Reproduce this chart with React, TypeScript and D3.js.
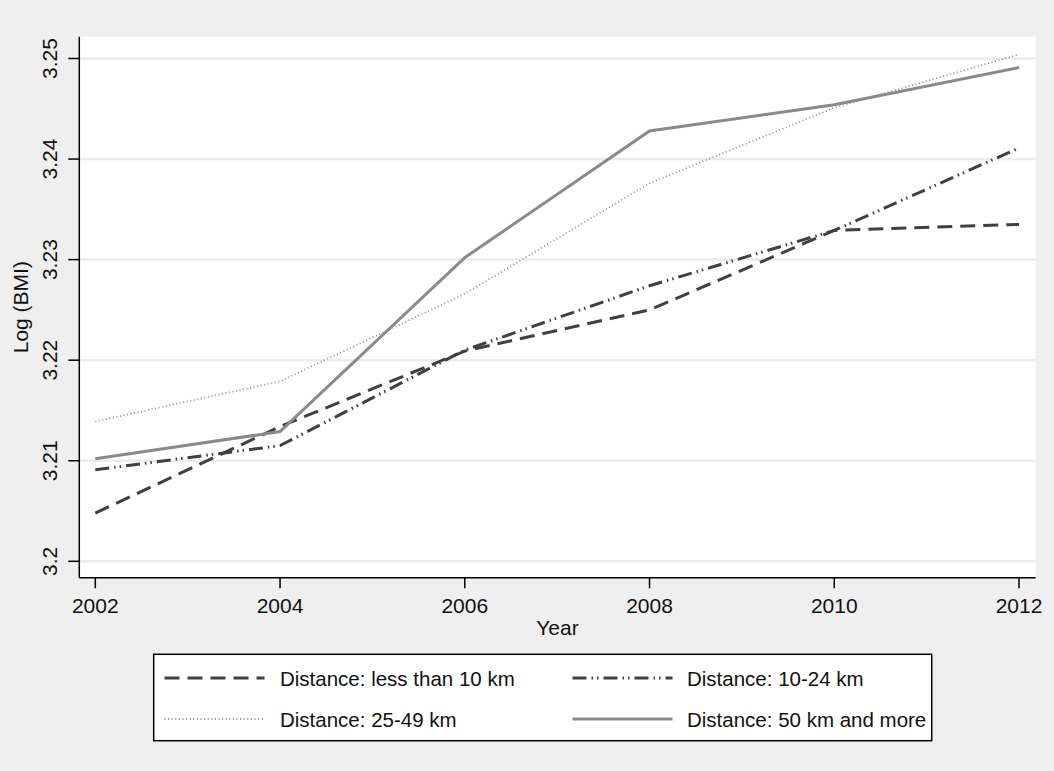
import React from "react";
import * as d3 from "d3";

const years = [2002, 2004, 2006, 2008, 2010, 2012];
const lessThan10 = [3.2048, 3.2134, 3.2209, 3.2250, 3.2329, 3.2335];
const d10to24 = [3.2091, 3.2115, 3.2210, 3.2274, 3.2329, 3.2411];
const d25to49 = [3.2139, 3.2179, 3.2266, 3.2376, 3.2451, 3.2504];
const d50plus = [3.2102, 3.2129, 3.2302, 3.2428, 3.2454, 3.2491];
const yTicks = [3.2, 3.21, 3.22, 3.23, 3.24, 3.25];
const seriesNames = [
  "Distance: less than 10 km",
  "Distance: 10-24 km",
  "Distance: 25-49 km",
  "Distance: 50 km and more",
];

const W = 1054;
const H = 771;
const plot = { left: 79.3, right: 1035.7, top: 36.7, bottom: 577.7 };

const styles = [
  { color: "#404040", width: 3, dash: "15 8" },
  { color: "#404040", width: 3, dash: "14 5 1.5 4 1.5 5" },
  { color: "#8e8e8e", width: 1.8, dash: "1 2.6" },
  { color: "#8a8a8a", width: 3, dash: "none" },
];

export default function App() {
  const x = d3.scaleLinear().domain([2002, 2012]).range([95.3, 1019]);
  const y = d3.scaleLinear().domain([3.2, 3.25]).range([561.3, 58.5]);
  const line = d3
    .line<[number, number]>()
    .x((d) => x(d[0]))
    .y((d) => y(d[1]));
  const all = [lessThan10, d10to24, d25to49, d50plus];
  const font = "'Liberation Sans', Arial, sans-serif";
  const fs = 21;
  const lfs = 20.5;

  const legendRows = [
    { sx: 164.5, tx: 280, cy: 678 },
    { sx: 572.5, tx: 687, cy: 678 },
    { sx: 164.5, tx: 280, cy: 719 },
    { sx: 572.5, tx: 687, cy: 719 },
  ];

  return (
    <div style={{ position: "fixed", left: 0, top: 0 }}>
      <svg width={W} height={H} style={{ display: "block" }} fontFamily={font}>
        <rect x={0} y={0} width={W} height={H} fill="#efefef" />
        <rect
          x={plot.left}
          y={plot.top}
          width={plot.right - plot.left}
          height={plot.bottom - plot.top}
          fill="#ffffff"
        />
        {yTicks.map((t) => (
          <line
            key={"g" + t}
            x1={plot.left}
            x2={plot.right}
            y1={y(t)}
            y2={y(t)}
            stroke="#ebebeb"
            strokeWidth={2.5}
          />
        ))}
        {all.map((vals, i) => (
          <path
            key={"s" + i}
            d={line(years.map((yr, j) => [yr, vals[j]] as [number, number])) || ""}
            fill="none"
            stroke={styles[i].color}
            strokeWidth={styles[i].width}
            strokeDasharray={styles[i].dash}
          />
        ))}
        {/* axes */}
        <line x1={plot.left} x2={plot.left} y1={plot.top} y2={plot.bottom} stroke="#000" strokeWidth={1.5} />
        <line x1={plot.left} x2={plot.right} y1={plot.bottom} y2={plot.bottom} stroke="#000" strokeWidth={1.5} />
        {yTicks.map((t) => (
          <g key={"yt" + t}>
            <line x1={plot.left - 11} x2={plot.left} y1={y(t)} y2={y(t)} stroke="#000" strokeWidth={1.5} />
            <text
              transform={`translate(57,${y(t)}) rotate(-90)`}
              textAnchor="middle"
              fontSize={fs}
              fill="#111"
            >
              {String(t)}
            </text>
          </g>
        ))}
        {years.map((yr) => (
          <g key={"xt" + yr}>
            <line x1={x(yr)} x2={x(yr)} y1={plot.bottom} y2={plot.bottom + 10.5} stroke="#000" strokeWidth={1.5} />
            <text x={x(yr)} y={613} textAnchor="middle" fontSize={fs} fill="#111">
              {yr}
            </text>
          </g>
        ))}
        <text x={(plot.left + plot.right) / 2} y={635} textAnchor="middle" fontSize={fs} fill="#111">
          Year
        </text>
        <text
          transform={`translate(28,${(plot.top + plot.bottom) / 2}) rotate(-90)`}
          textAnchor="middle"
          fontSize={fs}
          fill="#111"
        >
          Log (BMI)
        </text>
        {/* legend */}
        <rect x={153.7} y={654.3} width={778} height={86.4} fill="#ffffff" stroke="#000" strokeWidth={1.5} />
        {legendRows.map((r, i) => (
          <g key={"l" + i}>
            <line
              x1={r.sx}
              x2={r.sx + 100}
              y1={r.cy}
              y2={r.cy}
              stroke={styles[i].color}
              strokeWidth={styles[i].width}
              strokeDasharray={styles[i].dash}
            />
            <text x={r.tx} y={r.cy + 7.5} fontSize={lfs} fill="#111">
              {seriesNames[i]}
            </text>
          </g>
        ))}
      </svg>
    </div>
  );
}
